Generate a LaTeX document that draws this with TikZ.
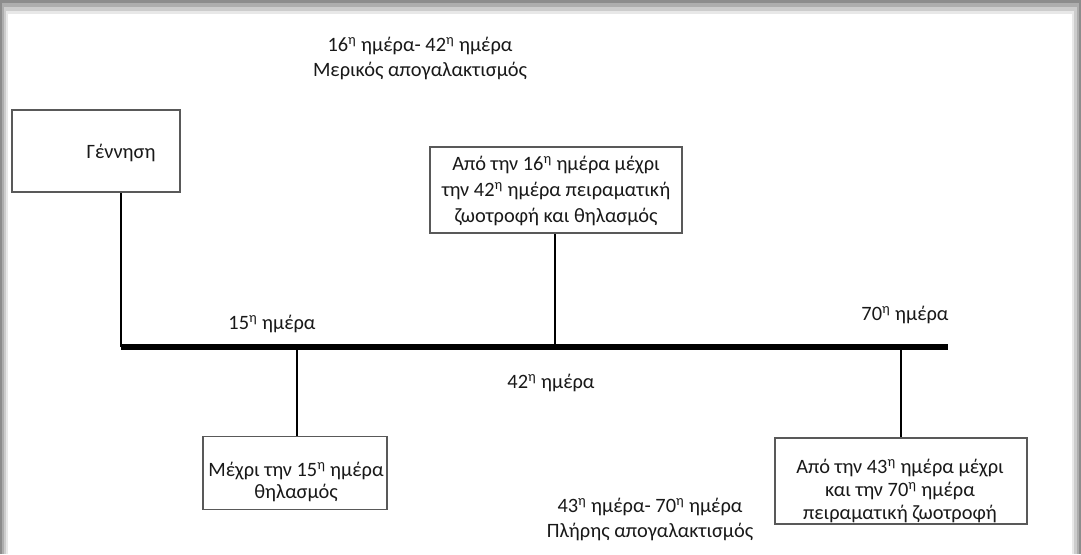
\documentclass[tikz,border=0pt]{standalone}
\usepackage{fontspec}
\setmainfont{Carlito}
\begin{document}
\begin{tikzpicture}[x=0.75pt,y=-0.75pt,
  box/.style={draw=black!65,line width=1.1pt,inner sep=0pt},
  txt/.style={font=\fontsize{15.3}{18.8}\selectfont,text=black!90,align=center,inner sep=0pt},
  conn/.style={line width=1.5pt,black},
  axis/.style={line width=4pt,black}]
% frame with soft shadow
\useasboundingbox (0,0) rectangle (1081,554);
\fill[black!45] (0,0) rectangle (1081,554);
\fill[black!32] (2,3) rectangle (1079,554);
\fill[black!20] (4,7) rectangle (1077,554);
\fill[black!9] (6,11) rectangle (1074,554);
\fill[white] (8,14) rectangle (1072,554);
% boxes
\node[box,minimum width=168*0.75pt,minimum height=82*0.75pt] (birth) at (96,151) {};
\node[txt] (birthT) at (121,153) {Γέννηση};
\node[box,minimum width=252*0.75pt,minimum height=86*0.75pt] (mid) at (556,190) {};
\node[txt,font=\fontsize{15.3}{19.5}\selectfont] (midT) at (556,191) {Από την 16\textsuperscript{η} ημέρα μέχρι\\την 42\textsuperscript{η} ημέρα πειραματική\\ζωοτροφή και θηλασμός};
\node[box,minimum width=184*0.75pt,minimum height=73*0.75pt] (left) at (295,473) {};
\node[txt,font=\fontsize{15.3}{16.8}\selectfont] (leftT) at (296,482) {Μέχρι την 15\textsuperscript{η} ημέρα\\θηλασμός};
\node[box,minimum width=252*0.75pt,minimum height=86*0.75pt] (right) at (901,481) {};
\node[txt,font=\fontsize{15.3}{17.3}\selectfont] (rightT) at (900,491) {Από την 43\textsuperscript{η} ημέρα μέχρι\\και την 70\textsuperscript{η} ημέρα\\πειραματική ζωοτροφή};
% timeline
\coordinate (a0) at (121,347);
\coordinate (a1) at (948,347);
\coordinate (t15) at (297,347);
\coordinate (t42) at (555,347);
\coordinate (t70) at (901,347);
\draw[axis] (a0) -- (a1);
\draw[conn] (a0) -- (a0 |- birth.south);
\draw[conn] (t15) -- (t15 |- left.north);
\draw[conn] (t42) -- (t42 |- mid.south);
\draw[conn] (t70) -- (t70 |- right.north);
% labels
\node[txt] (l15) at (272,324) {15\textsuperscript{η} ημέρα};
\node[txt] (l42) at (551,383) {42\textsuperscript{η} ημέρα};
\node[txt] (l70) at (905,315) {70\textsuperscript{η} ημέρα};
\node[txt] (top) at (420,58) {16\textsuperscript{η} ημέρα- 42\textsuperscript{η} ημέρα\\Μερικός απογαλακτισμός};
\node[txt] (bot) at (650,519) {43\textsuperscript{η} ημέρα- 70\textsuperscript{η} ημέρα\\Πλήρης απογαλακτισμός};
\end{tikzpicture}
\end{document}
